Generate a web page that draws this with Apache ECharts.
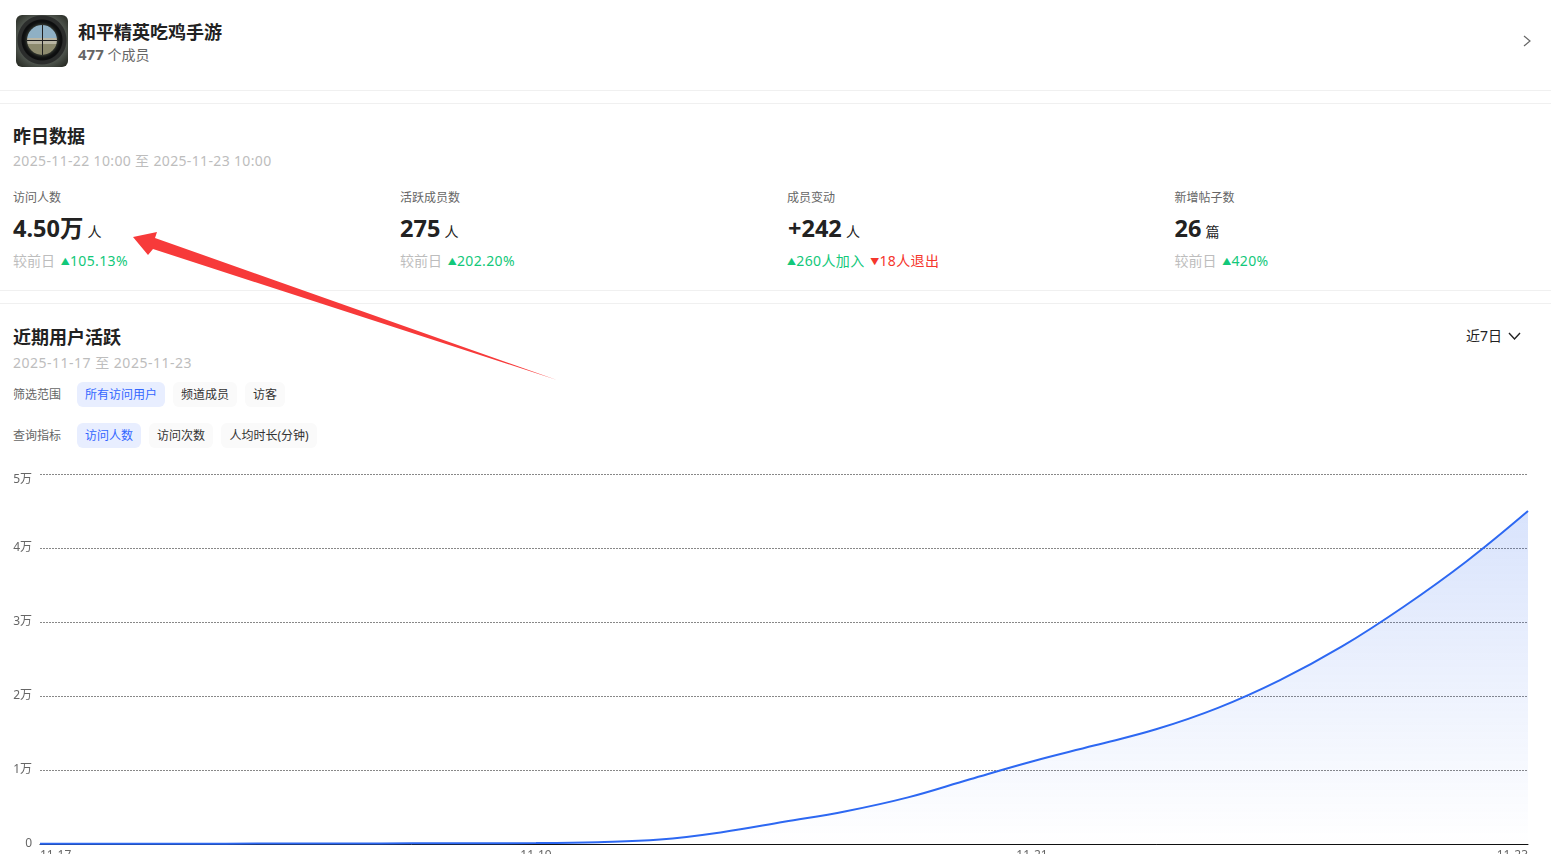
<!DOCTYPE html>
<html>
<head>
<meta charset="utf-8">
<script src="https://cdn.jsdelivr.net/npm/echarts@6/dist/echarts.min.js"></script>
<style>
    html, body { margin: 0; padding: 0; width: 1551px; height: 854px; overflow: hidden; background: #fff; }
    body { font-family: "Noto Sans", "Noto Sans CJK SC", sans-serif; color: #222; position: relative; }
    .t { position: absolute; white-space: nowrap; line-height: 20px; }
    .rule { position: absolute; left: 0; width: 1551px; height: 1px; background: #f0f0f0; }
    .icon { position: absolute; left: 16px; top: 15px; width: 52px; height: 52px; border-radius: 6px; overflow: hidden;
        background: radial-gradient(circle at 50% 48%, #0e0f10 0 20px, #2b2d2c 21px 24px, #4c524b 25px, #23261f 36px); }
    .lens { position: absolute; left: 11px; top: 10px; width: 30px; height: 30px; border-radius: 50%;
        background: linear-gradient(#8fb0c4 0 42%, #b9b6a4 43% 62%, #8c8a6e 63%); box-shadow: 0 0 3px 1px #3c4238; }
    .icon i { position: absolute; background: #1f1f1f; }
    .h { font-size: 18px; font-weight: 700; }
    .sub { font-size: 14px; color: #bdbdbd; }
    .date { letter-spacing: 0.35px; }
    .lab { font-size: 12px; color: #666; }
    .val { font-size: 23.5px; font-weight: 700; }
    .val small { font-size: 14px; font-weight: 400; margin-left: -2px; }
    .up { color: #12c87a; letter-spacing: 0.35px; }
    .down { color: #f5362c; letter-spacing: 0.35px; }
    .tri { font-size: 9px; position: relative; top: -1px; }
    .chip { position: absolute; height: 25px; line-height: 25px; font-size: 12px; text-align: center; border-radius: 6px; background: #fafafa; color: #333; }
    .chip.on { background: #e8eeff; color: #3366ff; }
    #chart { position: absolute; left: 0; top: 460px; width: 1551px; height: 420px; }
    svg { position: absolute; left: 0; top: 0; }
</style>
</head>
<body>
<div class="icon"><div class="lens"></div><i style="left:26px;top:10px;width:1px;height:30px"></i><i style="left:11px;top:25px;width:30px;height:1px"></i></div>
<div class="t h" style="left:78px;top:22px">和平精英吃鸡手游</div>
<div class="t" style="left:78px;top:44px;font-size:14px;color:#666"><b style="font-size:15px">477</b> 个成员</div>
<div class="rule" style="top:90px"></div>
<div class="rule" style="top:103px"></div>

<div class="t h" style="left:13px;top:126px">昨日数据</div>
<div class="t sub date" style="left:13px;top:151px">2025-11-22 10:00 至 2025-11-23 10:00</div>

<div class="t lab" style="left:13px;top:188px">访问人数</div>
<div class="t val" style="left:13px;top:218px">4.50万 <small>人</small></div>
<div class="t sub" style="left:13px;top:251px">较前日 <span class="up" style="margin-left:2px"><span class="tri">▲</span>105.13%</span></div>

<div class="t lab" style="left:400px;top:188px">活跃成员数</div>
<div class="t val" style="left:400px;top:218px">275 <small>人</small></div>
<div class="t sub" style="left:400px;top:251px">较前日 <span class="up" style="margin-left:2px"><span class="tri">▲</span>202.20%</span></div>

<div class="t lab" style="left:787px;top:188px">成员变动</div>
<div class="t val" style="left:788px;top:218px">+242 <small>人</small></div>
<div class="t sub" style="left:787px;top:251px"><span class="up"><span class="tri">▲</span>260人加入</span> <span class="down" style="margin-left:2px"><span class="tri">▼</span>18人退出</span></div>

<div class="t lab" style="left:1174.5px;top:188px">新增帖子数</div>
<div class="t val" style="left:1174.5px;top:218px">26 <small>篇</small></div>
<div class="t sub" style="left:1174.5px;top:251px">较前日 <span class="up" style="margin-left:2px"><span class="tri">▲</span>420%</span></div>

<div class="rule" style="top:290px"></div>
<div class="rule" style="top:303px"></div>

<div class="t h" style="left:13px;top:327px">近期用户活跃</div>
<div class="t sub date" style="left:13px;top:353px;letter-spacing:0.5px">2025-11-17 至 2025-11-23</div>
<div class="t" style="left:1466px;top:326px;font-size:14px">近7日</div>

<div class="t lab" style="left:13px;top:385px">筛选范围</div>
<div class="chip on" style="left:77px;top:382px;width:88px">所有访问用户</div>
<div class="chip" style="left:173px;top:382px;width:64px">频道成员</div>
<div class="chip" style="left:245px;top:382px;width:40px">访客</div>

<div class="t lab" style="left:13px;top:426px">查询指标</div>
<div class="chip on" style="left:77px;top:423px;width:64px">访问人数</div>
<div class="chip" style="left:149px;top:423px;width:64px">访问次数</div>
<div class="chip" style="left:221px;top:423px;width:96px">人均时长(分钟)</div>

<div id="chart"></div>

<svg width="1551" height="854">
    <polyline points="1524,36 1530,41 1524,46" fill="none" stroke="#666" stroke-width="1.2"/>
    <polyline points="1509,333 1514.5,339 1520,333" fill="none" stroke="#222" stroke-width="1.4"/>
    <polygon points="133,237 157,232 155,238 557,380 153,249 148,255" fill="#f73a3a"/>
</svg>

<script>
    // 访问人数，每天4个点，读图估算
    var days = ['11-17', '11-18', '11-19', '11-20', '11-21', '11-22', '11-23']
    var hours = ['00', '06', '12', '18']
    var visitors = [20, 30, 40, 50, 60, 70, 90, 110, 130, 250, 600, 1600, 3000, 4430, 6300, 8750, 11150, 13300, 15500, 18400, 22150, 26700, 32100, 38150, 45000]
    var yTicks = [0, 10000, 20000, 30000, 40000, 50000]

    var categories = []
    for (const d of days) {
        for (const h of hours) {
            categories.push(d + ' ' + h)
        }
    }
    categories = categories.slice(0, visitors.length)

    var myChart = echarts.init(document.getElementById('chart'));
    var option = {
        animation: false,
        grid: { left: 40, right: 23, top: 14, height: 370 },
        xAxis: {
            type: 'category',
            boundaryGap: false,
            data: categories,
            axisTick: { show: false },
            axisLine: { lineStyle: { color: '#111', width: 1 } },
            axisLabel: {
                interval: 7,
                color: '#666',
                fontSize: 12,
                margin: 6,
                alignMinLabel: 'left',
                alignMaxLabel: 'right',
                fontFamily: '"Noto Sans", "Noto Sans CJK SC", sans-serif',
                formatter: function (v) { return v.slice(0, 5) }
            }
        },
        yAxis: {
            type: 'value',
            min: yTicks[0],
            max: yTicks[yTicks.length - 1],
            interval: yTicks[1],
            axisLine: { show: false },
            axisTick: { show: false },
            axisLabel: {
                color: '#666',
                fontSize: 12,
                margin: 8,
                padding: [0, 0, 4, 0],
                verticalAlignMaxLabel: 'top',
                fontFamily: '"Noto Sans", "Noto Sans CJK SC", sans-serif',
                formatter: function (v) { return v === 0 ? '0' : v / 10000 + '万' }
            },
            splitLine: { lineStyle: { color: '#888', width: 1, type: [2, 1] } }
        },
        series: [{
            type: 'line',
            data: visitors,
            smooth: 0.4,
            showSymbol: false,
            lineStyle: { color: '#2d68f2', width: 2 },
            itemStyle: { color: '#2d68f2' },
            areaStyle: {
                color: new echarts.graphic.LinearGradient(0, 0, 0, 1, [
                    { offset: 0, color: 'rgba(43,101,238,0.26)' },
                    { offset: 1, color: 'rgba(43,101,238,0)' }
                ])
            }
        }]
    };
    myChart.setOption(option);
</script>
</body>
</html>
